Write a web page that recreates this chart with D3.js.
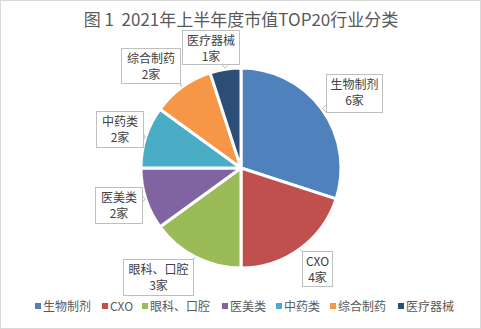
<!DOCTYPE html>
<html><head><meta charset="utf-8">
<script src="https://cdn.jsdelivr.net/npm/d3@7"></script>
<style>body{margin:0;background:#fff}svg{display:block}</style>
</head><body>
<svg id="c" width="481" height="329"></svg>
<script>
const categories = ["生物制剂","CXO","眼科、口腔","医美类","中药类","综合制药","医疗器械"];
const counts = [6,4,3,2,2,2,1];
const unitLabels = ["6家","4家","3家","2家","2家","2家","1家"];
const colors = ["#4F81BD","#C0504D","#9BBB59","#8064A2","#4BACC6","#F79646","#2C4D75"];
const title = "图 1  2021年上半年度市值TOP20行业分类";

// callout box layout (x, y, w, h)
const boxes = [
  [326,74,56,38],[302,251,30,35],[123,259,70,36],[95,187,47,36],[96,111,47,36],[121,48,59,35],[182,30,57,34]
];

const svg = d3.select("#c");
const W = 481, H = 329;
svg.append("rect").attr("x",0.5).attr("y",0.5).attr("width",W-1).attr("height",H-1)
  .attr("fill","#fff").attr("stroke","#d9d9d9");
const font = "'Microsoft YaHei','Noto Sans CJK SC',sans-serif";
svg.append("text").attr("x",241).attr("y",26).attr("text-anchor","middle")
  .style("white-space","pre")
  .attr("font-family",font).attr("font-size",17).attr("fill","#595959").text(title);

const cx = 241, cy = 168, R = 100;
const pie = d3.pie().sort(null).value(d=>d)(counts);
const arc = d3.arc().innerRadius(0).outerRadius(R);
const g = svg.append("g").attr("transform",`translate(${cx},${cy})`);
g.selectAll("path").data(pie).join("path").attr("d",arc)
  .attr("fill",(d,i)=>colors[i]).attr("stroke","#fff").attr("stroke-width",3).attr("stroke-linejoin","round");

// callouts
const lg = svg.append("g");
pie.forEach((d,i)=>{
  const [bx,by,bw,bh] = boxes[i];
  const a = (d.startAngle+d.endAngle)/2;
  const tx = cx + Math.sin(a)*(R+1), ty = cy - Math.cos(a)*(R+1);
  const px = Math.max(bx, Math.min(bx+bw, tx));
  const py = Math.max(by, Math.min(by+bh, ty));
  const ccx = bx+bw/2;
  let p1, p2;
  if (px===bx || px===bx+bw) { p1=[px, Math.max(by,py-4)]; p2=[px, Math.min(by+bh,py+4)]; if(py===by||py===by+bh){p1=[px,py];p2=[px,py];} }
  else { p1=[Math.max(bx,px-4),py]; p2=[Math.min(bx+bw,px+4),py]; }
  const inside = (tx>=bx&&tx<=bx+bw&&ty>=by&&ty<=by+bh);
  if(!inside){
    lg.append("path").attr("d",`M${p1[0]},${p1[1]}L${tx},${ty}L${p2[0]},${p2[1]}`)
      .attr("fill","#fff").attr("stroke","#bfbfbf").attr("stroke-width",1);
  }
  lg.append("rect").attr("x",bx+0.5).attr("y",by+0.5).attr("width",bw).attr("height",bh)
    .attr("fill","#fff").attr("stroke","#bfbfbf");
  const t = lg.append("text").attr("text-anchor","middle").attr("font-family",font)
    .attr("font-size",12).attr("fill","#404040");
  t.append("tspan").attr("x",ccx+0.5).attr("y",by+15).text(categories[i]);
  t.append("tspan").attr("x",ccx+0.5).attr("y",by+31).text(unitLabels[i]);
});

// legend
const legX = [35,102,142,222,276,330,398];
const leg = svg.append("g");
categories.forEach((c,i)=>{
  leg.append("rect").attr("x",legX[i]).attr("y",303).attr("width",6).attr("height",6).attr("fill",colors[i]);
  leg.append("text").attr("x",legX[i]+8).attr("y",311).attr("font-family",font).attr("font-size",12)
    .attr("fill","#595959").text(c);
});
</script>
</body></html>
